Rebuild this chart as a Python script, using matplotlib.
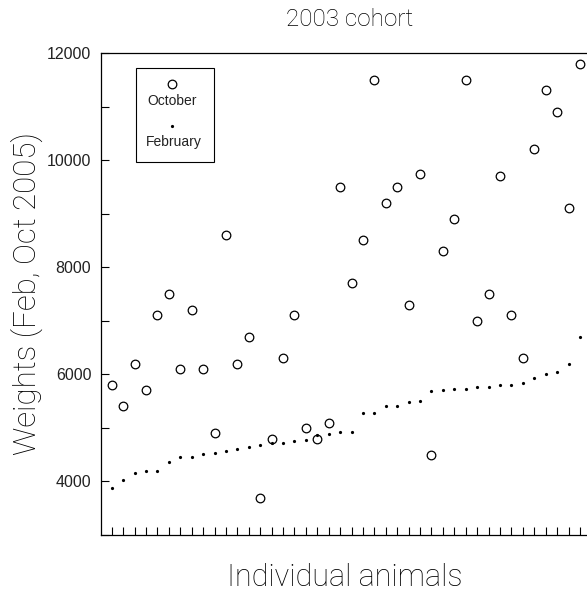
import matplotlib
matplotlib.use("Agg")
import matplotlib.pyplot as plt
from matplotlib.patches import Rectangle
from matplotlib.ticker import MultipleLocator, NullFormatter
import numpy as np

# ============================================================
# Data: weights of individual animals, 2003 cohort
# ============================================================
october = [5800, 5400, 6200, 5700, 7100, 7500, 6100, 7200, 6100, 4900,
           8600, 6200, 6700, 3700, 4800, 6300, 7100, 5000, 4800, 5100,
           9500, 7700, 8500, 11500, 9200, 9500, 7300, 9750, 4500, 8300,
           8900, 11500, 7000, 7500, 9700, 7100, 6300, 10200, 11300, 10900,
           9100, 11800]
february = [3880, 4030, 4160, 4190, 4190, 4370, 4450, 4460, 4520, 4540,
            4570, 4600, 4640, 4680, 4710, 4710, 4750, 4770, 4860, 4890,
            4920, 4920, 5270, 5280, 5400, 5400, 5480, 5510, 5680, 5700,
            5730, 5730, 5760, 5770, 5800, 5810, 5840, 5930, 6010, 6040,
            6190, 6690]
animals = np.arange(len(october))

plt.rcParams['font.family'] = ['Liberation Sans', 'DejaVu Sans']
big_font = ['Roboto', 'DejaVu Sans']

fig = plt.figure(figsize=(5.87, 5.95), dpi=100)
ax = fig.add_axes([101 / 587, 1 - 535 / 595, 486 / 587, 482 / 595])

ax.plot(animals, october, 'o', ms=6.2, mfc='white', mec='black', mew=0.9)
ax.plot(animals, february, 'o', ms=2.3, color='black', mew=0)

ax.set_xlim(-0.94, 41.62)
ax.set_ylim(3000, 12000)

ax.set_xticks(animals)
ax.xaxis.set_major_formatter(NullFormatter())
ax.yaxis.set_major_locator(MultipleLocator(2000))
ax.yaxis.set_minor_locator(MultipleLocator(1000))
ax.tick_params(axis='both', which='both', direction='in', length=6, width=0.8,
               labelsize=11.5, labelcolor='#222222')
ax.tick_params(axis='y', pad=7)
ax.spines['right'].set_visible(False)
for s in ['left', 'bottom', 'top']:
    ax.spines[s].set_linewidth(0.9)

# legend: marker above label, in a box
ax.add_patch(Rectangle((0.0714, 0.774), 0.161, 0.194, transform=ax.transAxes,
                       fill=False, lw=0.8, ec='black'))
ax.plot([0.1467], [0.9357], 'o', ms=6.2, mfc='white', mec='black', mew=0.9,
        transform=ax.transAxes, clip_on=False)
ax.text(0.1455, 0.9004, "October", transform=ax.transAxes, ha='center',
        va='center', fontsize=10, color='#222222')
ax.plot([0.1467], [0.8485], 'o', ms=2.3, color='black', mew=0,
        transform=ax.transAxes, clip_on=False)
ax.text(0.1508, 0.8147, "February", transform=ax.transAxes, ha='center',
        va='center', fontsize=10, color='#222222')

fig.text(350 / 587, 1 - 20 / 595, "2003 cohort", ha='center', va='center',
         fontsize=17.5, fontweight='light', family=big_font, color='black')
fig.text(345 / 587, 1 - 577 / 595, "Individual animals", ha='center',
         va='center', fontsize=22, fontweight='light', family=big_font)
fig.text(27 / 587, 1 - 294 / 595, "Weights (Feb, Oct 2005)", ha='center',
         va='center', rotation=90, fontsize=22.5, fontweight='light',
         family=big_font)

fig.savefig("out.png", dpi=100)
